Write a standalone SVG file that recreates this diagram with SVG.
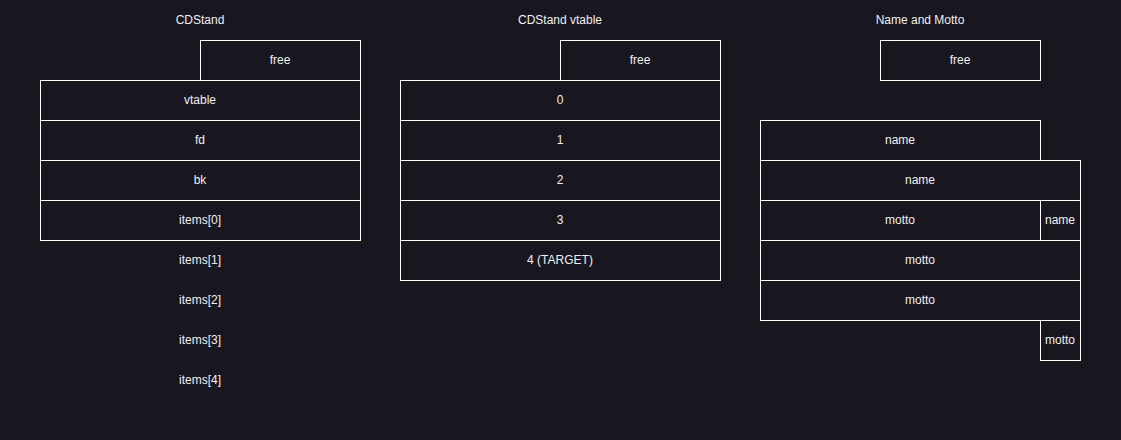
<svg xmlns="http://www.w3.org/2000/svg" width="1121" height="440" viewBox="0 0 1121 440">
<style>
.cell{fill:#18161e;stroke:#ffffff;stroke-width:1}
text{font-family:"Liberation Sans",Arial,sans-serif;font-size:12px;fill:#f0f0f0;text-anchor:middle;dominant-baseline:central}
</style>
<rect x="0" y="0" width="1121" height="440" fill="#18161e"/>
<g id="cdstand">
<text x="200" y="20">CDStand</text>
<g id="cd-free"><rect class="cell" x="200.5" y="40.5" width="160" height="40"/><text x="280" y="60">free</text></g>
<g id="cd-vtable"><rect class="cell" x="40.5" y="80.5" width="320" height="40"/><text x="200" y="100">vtable</text></g>
<g id="cd-fd"><rect class="cell" x="40.5" y="120.5" width="320" height="40"/><text x="200" y="140">fd</text></g>
<g id="cd-bk"><rect class="cell" x="40.5" y="160.5" width="320" height="40"/><text x="200" y="180">bk</text></g>
<g id="cd-items0"><rect class="cell" x="40.5" y="200.5" width="320" height="40"/><text x="200" y="220">items[0]</text></g>
<g id="cd-items1"><text x="200" y="260">items[1]</text></g>
<g id="cd-items2"><text x="200" y="300">items[2]</text></g>
<g id="cd-items3"><text x="200" y="340">items[3]</text></g>
<g id="cd-items4"><text x="200" y="380">items[4]</text></g>
</g>
<g id="vtable">
<text x="560" y="20">CDStand vtable</text>
<g id="vt-free"><rect class="cell" x="560.5" y="40.5" width="160" height="40"/><text x="640" y="60">free</text></g>
<g id="vt-0"><rect class="cell" x="400.5" y="80.5" width="320" height="40"/><text x="560" y="100">0</text></g>
<g id="vt-1"><rect class="cell" x="400.5" y="120.5" width="320" height="40"/><text x="560" y="140">1</text></g>
<g id="vt-2"><rect class="cell" x="400.5" y="160.5" width="320" height="40"/><text x="560" y="180">2</text></g>
<g id="vt-3"><rect class="cell" x="400.5" y="200.5" width="320" height="40"/><text x="560" y="220">3</text></g>
<g id="vt-4"><rect class="cell" x="400.5" y="240.5" width="320" height="40"/><text x="560" y="260">4 (TARGET)</text></g>
</g>
<g id="namemotto">
<text x="920" y="20">Name and Motto</text>
<g id="nm-free"><rect class="cell" x="880.5" y="40.5" width="160" height="40"/><text x="960" y="60">free</text></g>
<g id="nm-name1"><rect class="cell" x="760.5" y="120.5" width="280" height="40"/><text x="900" y="140">name</text></g>
<g id="nm-name2"><rect class="cell" x="760.5" y="160.5" width="320" height="40"/><text x="920" y="180">name</text></g>
<g id="nm-motto1"><rect class="cell" x="760.5" y="200.5" width="280" height="40"/><text x="900" y="220">motto</text></g>
<g id="nm-name3"><rect class="cell" x="1040.5" y="200.5" width="40" height="40"/><text x="1060" y="220">name</text></g>
<g id="nm-motto2"><rect class="cell" x="760.5" y="240.5" width="320" height="40"/><text x="920" y="260">motto</text></g>
<g id="nm-motto3"><rect class="cell" x="760.5" y="280.5" width="320" height="40"/><text x="920" y="300">motto</text></g>
<g id="nm-motto4"><rect class="cell" x="1040.5" y="320.5" width="40" height="40"/><text x="1060" y="340">motto</text></g>
</g>
<g id="connectors"/>
</svg>
